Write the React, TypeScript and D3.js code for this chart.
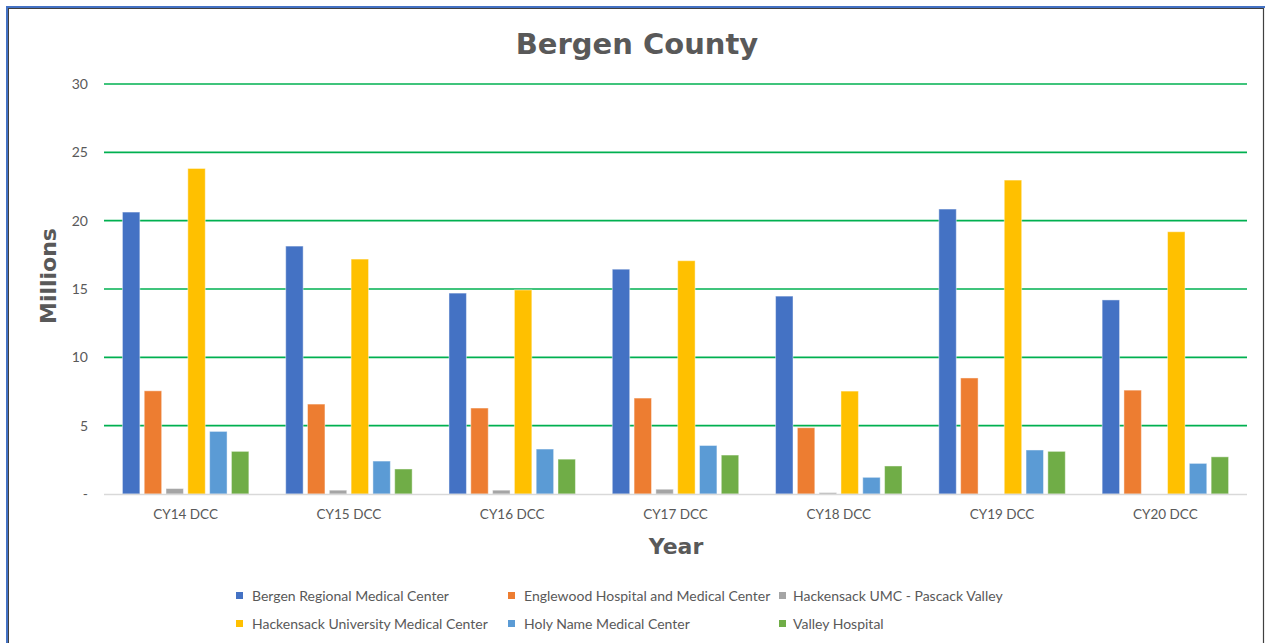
import React from "react";
import * as d3 from "d3";

const categories = ["CY14 DCC", "CY15 DCC", "CY16 DCC", "CY17 DCC", "CY18 DCC", "CY19 DCC", "CY20 DCC"];
const seriesNames = [
  "Bergen Regional Medical Center",
  "Englewood Hospital and Medical Center",
  "Hackensack UMC - Pascack Valley",
  "Hackensack University Medical Center",
  "Holy Name Medical Center",
  "Valley Hospital",
];
const bergenRegional = [20.63, 18.14, 14.7, 16.45, 14.48, 20.85, 14.2];
const englewood = [7.55, 6.58, 6.29, 7.02, 4.85, 8.49, 7.6];
const pascackValley = [0.4, 0.28, 0.28, 0.35, 0.1, 0, 0];
const hackensackUMC = [23.82, 17.19, 14.93, 17.07, 7.53, 22.97, 19.19];
const holyName = [4.58, 2.41, 3.29, 3.55, 1.22, 3.22, 2.24];
const valley = [3.12, 1.83, 2.55, 2.85, 2.05, 3.12, 2.72];
const seriesValues = [bergenRegional, englewood, pascackValley, hackensackUMC, holyName, valley];
const colors = ["#4472C4", "#ED7D31", "#A5A5A5", "#FFC000", "#5B9BD5", "#70AD47"];
const yTicks = [0, 5, 10, 15, 20, 25, 30];

export default function App() {
  const W = 1265;
  const H = 643;
  const left = 104;
  const right = 1247;
  const top = 84;
  const bottom = 494;

  const y = d3.scaleLinear().domain([0, 30]).range([bottom, top]);
  const x0 = d3.scaleBand<string>().domain(categories).range([left, right]).padding(0);
  const x1 = d3
    .scaleBand<string>()
    .domain(seriesNames)
    .range([0, x0.bandwidth()])
    .paddingInner(0.2)
    .paddingOuter(0.845);

  const tickFont = "Lato, 'Open Sans', sans-serif";
  const textGrey = "#595959";

  const legendCols = [
    { mx: 236, tx: 252 },
    { mx: 508, tx: 524 },
    { mx: 779, tx: 793 },
  ];
  const legendRows = [596, 624];

  return (
    <svg
      width={W}
      height={H}
      style={{ position: "absolute", left: 0, top: 0, background: "#fff" }}
    >
      <rect x={0} y={0} width={W} height={H} fill="#fff" />
      {/* frame */}
      <rect x={6} y={6} width={W - 6} height={2} fill="#4472C4" />
      <rect x={6} y={6} width={2} height={H - 6} fill="#4472C4" />
      <line x1={8} y1={8.5} x2={1264} y2={8.5} stroke="#404040" strokeWidth={1} />
      <line x1={8.5} y1={8} x2={8.5} y2={H} stroke="#404040" strokeWidth={1} />
      <line x1={1263.5} y1={8} x2={1263.5} y2={H} stroke="#404040" strokeWidth={1.2} />

      {/* title */}
      <text
        x={637}
        y={54}
        textAnchor="middle"
        fontFamily="'DejaVu Sans', sans-serif"
        fontWeight="bold"
        fontSize={29}
        fill={textGrey}
      >
        Bergen County
      </text>

      {/* gridlines */}
      {yTicks
        .filter((t) => t > 0)
        .map((t) => (
          <line
            key={"g" + t}
            x1={left}
            x2={right}
            y1={y(t)}
            y2={y(t)}
            stroke="#00B050"
            strokeWidth={1.6}
          />
        ))}

      {/* y tick labels */}
      {yTicks.map((t) => (
        <text
          key={"yt" + t}
          x={88}
          y={y(t)}
          dy="0.35em"
          textAnchor="end"
          fontFamily={tickFont}
          fontSize={14}
          fill={textGrey}
        >
          {t === 0 ? "-" : String(t)}
        </text>
      ))}

      {/* bars */}
      {categories.map((c, ci) => (
        <g key={c} transform={`translate(${x0(c)},0)`}>
          {seriesNames.map((s, si) => {
            const v = seriesValues[si][ci];
            if (v <= 0) return null;
            return (
              <rect
                key={s}
                x={x1(s)}
                y={y(v)}
                width={x1.bandwidth()}
                height={bottom - y(v)}
                fill={colors[si]}
                stroke="#ffffff"
                strokeOpacity={0.45}
                strokeWidth={1}
              />
            );
          })}
        </g>
      ))}

      {/* baseline */}
      <line x1={left} x2={right} y1={bottom + 0.5} y2={bottom + 0.5} stroke="#D9D9D9" strokeWidth={1.6} />

      {/* x labels */}
      {categories.map((c) => (
        <text
          key={"xl" + c}
          x={(x0(c) as number) + x0.bandwidth() / 2}
          y={519}
          textAnchor="middle"
          fontFamily={tickFont}
          fontSize={13.5}
          fill={textGrey}
        >
          {c}
        </text>
      ))}

      {/* axis titles */}
      <text
        transform={`translate(56,276) rotate(-90)`}
        textAnchor="middle"
        fontFamily="'DejaVu Sans', sans-serif"
        fontWeight="bold"
        fontSize={22}
        fill={textGrey}
      >
        Millions
      </text>
      <text
        x={676}
        y={554}
        textAnchor="middle"
        fontFamily="'DejaVu Sans', sans-serif"
        fontWeight="bold"
        fontSize={22}
        fill={textGrey}
      >
        Year
      </text>

      {/* legend */}
      {seriesNames.map((s, i) => {
        const col = legendCols[i % 3];
        const ry = legendRows[Math.floor(i / 3)];
        return (
          <g key={"lg" + s}>
            <rect x={col.mx} y={ry - 4} width={7} height={7} fill={colors[i]} />
            <text
              x={col.tx}
              y={ry}
              dy="0.35em"
              fontFamily={tickFont}
              fontSize={14}
              fill={textGrey}
            >
              {s}
            </text>
          </g>
        );
      })}
    </svg>
  );
}
